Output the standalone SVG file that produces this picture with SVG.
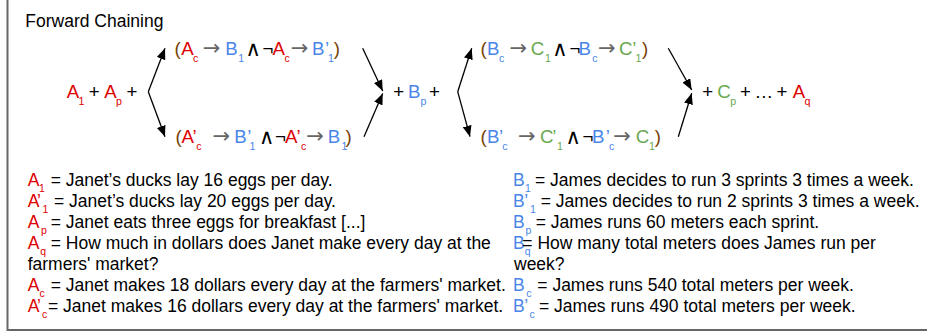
<svg xmlns="http://www.w3.org/2000/svg" width="927" height="335" viewBox="0 0 927 335">
<style>
text { font-family: "Liberation Sans", Arial, "DejaVu Sans", sans-serif; }
.t { font-size: 17.5px; fill: #000; }
.f { font-size: 18.67px; fill: #000; }
.s { font-size: 10.67px; }
.ls { font-size: 10.5px; }
.m { text-anchor: middle; }
.r { fill: #dd0000; }
.b { fill: #4a86e8; }
.g { fill: #6aa84f; }
.k { fill: #000; }
.ar { fill: #666666; font-family: "DejaVu Sans", sans-serif; font-size: 21px; }
.and { font-family: "DejaVu Sans", sans-serif; font-size: 21px; }
.pn { fill: #783f04; }
.frame { stroke: #666666; stroke-width: 2; fill: none; }
.conn { stroke: #000; stroke-width: 1.3; fill: none; marker-end: url(#ah); }
</style>
<defs>
<marker id="ah" markerUnits="userSpaceOnUse" markerWidth="12" markerHeight="10" refX="11" refY="4.5" orient="auto">
<path d="M0,0 L11,4.5 L0,9 z" fill="#000"/>
</marker>
</defs>
<rect width="927" height="335" fill="#fff"/>
<path class="frame" d="M7.5,0 V330 H927"/>

<g id="title"><text class="t" x="25.3" y="26.5">Forward Chaining</text></g>

<g id="step-a">
<text class="f"><tspan class="r" x="66.7" y="98">A</tspan><tspan class="r s" x="78.5" y="104.5">1</tspan><tspan class="k m" x="94.2" y="98">+</tspan><tspan class="r" x="104.3" y="98">A</tspan><tspan class="r s" x="116" y="104.5">p</tspan><tspan class="k m" x="132" y="98">+</tspan></text>
</g>

<g id="branch-a-top">
<text class="f"><tspan class="pn" x="174.5" y="55">(</tspan><tspan class="r" x="181.3" y="55">A</tspan><tspan class="r s" x="193" y="61.5">c</tspan><tspan class="ar m" x="211.5" y="55">→</tspan><tspan class="b" x="225.3" y="55">B</tspan><tspan class="b s" x="238.2" y="61.5">1</tspan><tspan class="k m and" x="253.3" y="55.5">∧</tspan><tspan class="k m" x="268" y="55">¬</tspan><tspan class="r" x="272.5" y="55">A</tspan><tspan class="r s" x="284.6" y="61.5">c</tspan><tspan class="ar m" x="299.5" y="55">→</tspan><tspan class="b" x="311.9" y="55">B</tspan><tspan class="b" x="325" y="55">’</tspan><tspan class="b s" x="328" y="61.5">1</tspan><tspan class="pn" x="333.8" y="55">)</tspan></text>
</g>

<g id="branch-a-bottom">
<text class="f"><tspan class="pn" x="175.4" y="143">(</tspan><tspan class="r" x="181.5" y="143">A</tspan><tspan class="r" x="192.4" y="143">’</tspan><tspan class="r s" x="196.3" y="149.5">c</tspan><tspan class="ar m" x="221.3" y="143">→</tspan><tspan class="b" x="234.2" y="143">B</tspan><tspan class="b" x="247.3" y="143">’</tspan><tspan class="b s" x="249.5" y="149.5">1</tspan><tspan class="k m and" x="266.7" y="143.5">∧</tspan><tspan class="k m" x="280.5" y="143">¬</tspan><tspan class="r" x="285" y="143">A</tspan><tspan class="r" x="296.5" y="143">’</tspan><tspan class="r s" x="301" y="149.5">c</tspan><tspan class="ar m" x="315" y="143">→</tspan><tspan class="b" x="327.8" y="143">B</tspan><tspan class="b s" x="341.5" y="149.5">1</tspan><tspan class="pn" x="345.5" y="143">)</tspan></text>
</g>

<g id="step-b">
<text class="f"><tspan class="k m" x="398.8" y="98">+</tspan><tspan class="b" x="408" y="98">B</tspan><tspan class="b s" x="420.5" y="104.5">p</tspan><tspan class="k m" x="434.5" y="98">+</tspan></text>
</g>

<g id="branch-b-top">
<text class="f"><tspan class="pn" x="480.5" y="55">(</tspan><tspan class="b" x="487" y="55">B</tspan><tspan class="b s" x="499" y="61.5">c</tspan><tspan class="ar m" x="518.3" y="55">→</tspan><tspan class="g" x="530.7" y="55">C</tspan><tspan class="g s" x="545" y="61.5">1</tspan><tspan class="k m and" x="560" y="55.5">∧</tspan><tspan class="k m" x="575" y="55">¬</tspan><tspan class="b" x="578.6" y="55">B</tspan><tspan class="b s" x="592.3" y="61.5">c</tspan><tspan class="ar m" x="606.7" y="55">→</tspan><tspan class="g" x="619" y="55">C</tspan><tspan class="g" x="632.3" y="55">’</tspan><tspan class="g s" x="635.5" y="61.5">1</tspan><tspan class="pn" x="642" y="55">)</tspan></text>
</g>

<g id="branch-b-bottom">
<text class="f"><tspan class="pn" x="480.5" y="143">(</tspan><tspan class="b" x="487" y="143">B</tspan><tspan class="b" x="499" y="143">’</tspan><tspan class="b s" x="502.3" y="149.5">c</tspan><tspan class="ar m" x="526.7" y="143">→</tspan><tspan class="g" x="540" y="143">C</tspan><tspan class="g" x="552.3" y="143">’</tspan><tspan class="g s" x="557" y="149.5">1</tspan><tspan class="k m and" x="573.3" y="143.5">∧</tspan><tspan class="k m" x="588" y="143">¬</tspan><tspan class="b" x="592" y="143">B</tspan><tspan class="b" x="605.7" y="143">’</tspan><tspan class="b s" x="609" y="149.5">c</tspan><tspan class="ar m" x="622" y="143">→</tspan><tspan class="g" x="635.7" y="143">C</tspan><tspan class="g s" x="649" y="149.5">1</tspan><tspan class="pn" x="654.8" y="143">)</tspan></text>
</g>

<g id="step-c">
<text class="f"><tspan class="k m" x="707.8" y="98">+</tspan><tspan class="g" x="717.3" y="98">C</tspan><tspan class="g s" x="730.3" y="104.5">p</tspan><tspan class="k m" x="745.5" y="98">+</tspan><tspan class="k m" x="763.8" y="98">…</tspan><tspan class="k m" x="782" y="98">+</tspan><tspan class="r" x="792.7" y="98">A</tspan><tspan class="r s" x="804.5" y="104.5">q</tspan></text>
</g>

<g id="connectors">
<path class="conn" d="M148.3,91.7 L165,48.3"/>
<path class="conn" d="M148.3,91.7 L165,136.7"/>
<path class="conn" d="M362.7,48.3 L382.7,91"/>
<path class="conn" d="M364,136.7 L382.7,93.5"/>
<path class="conn" d="M457.7,91.7 L471.7,48.3"/>
<path class="conn" d="M457.7,91.7 L470,136.7"/>
<path class="conn" d="M668.3,48.3 L691.7,90"/>
<path class="conn" d="M678.3,136.7 L691.7,93.3"/>
</g>

<g id="legend-a">
<text class="t"><tspan class="r" x="27.7" y="186.3">A</tspan><tspan class="r ls" x="39" y="192.3">1</tspan><tspan x="50.7" y="186.3">= Janet’s ducks lay 16 eggs per day.</tspan></text>
<text class="t"><tspan class="r" x="27.7" y="207.2">A</tspan><tspan class="r" x="37" y="207.2">’</tspan><tspan class="r ls" x="42.5" y="213.2">1</tspan><tspan x="54" y="207.2">= Janet’s ducks lay 20 eggs per day.</tspan></text>
<text class="t"><tspan class="r" x="27.7" y="228.2">A</tspan><tspan class="r ls" x="41" y="234.2">p</tspan><tspan x="50.7" y="228.2">= Janet eats three eggs for breakfast [...]</tspan></text>
<text class="t"><tspan class="r" x="27.7" y="249.2">A</tspan><tspan class="r ls" x="40.3" y="255.2">q</tspan><tspan x="50.7" y="249.2">= How much in dollars does Janet make every day at the</tspan><tspan x="27.7" y="270.1">farmers' market?</tspan></text>
<text class="t"><tspan class="r" x="27.7" y="291.1">A</tspan><tspan class="r ls" x="39.6" y="297.1">c</tspan><tspan x="50.7" y="291.1">= Janet makes 18 dollars every day at the farmers' market.</tspan></text>
<text class="t"><tspan class="r" x="27.7" y="312">A</tspan><tspan class="r" x="37" y="312">’</tspan><tspan class="r ls" x="42" y="318">c</tspan><tspan x="48" y="312">= Janet makes 16 dollars every day at the farmers' market.</tspan></text>
</g>

<g id="legend-b">
<text class="t"><tspan class="b" x="513" y="186.3">B</tspan><tspan class="b ls" x="525" y="192.3">1</tspan><tspan x="535" y="186.3">= James decides to run 3 sprints 3 times a week.</tspan></text>
<text class="t"><tspan class="b" x="513" y="207.2">B</tspan><tspan class="b" x="524.3" y="207.2">’</tspan><tspan class="b ls" x="530" y="213.2">1</tspan><tspan x="540.7" y="207.2">= James decides to run 2 sprints 3 times a week.</tspan></text>
<text class="t"><tspan class="b" x="513" y="228.2">B</tspan><tspan class="b ls" x="525.5" y="234.2">p</tspan><tspan x="535.7" y="228.2">= James runs 60 meters each sprint.</tspan></text>
<text class="t"><tspan class="b" x="513" y="249.2">B</tspan><tspan class="b ls" x="524.8" y="255.2">q</tspan><tspan x="522.3" y="249.2">= How many total meters does James run per</tspan><tspan x="514" y="270.1">week?</tspan></text>
<text class="t"><tspan class="b" x="513" y="291.1">B</tspan><tspan class="b ls" x="526.3" y="297.1">c</tspan><tspan x="537.3" y="291.1">= James runs 540 total meters per week.</tspan></text>
<text class="t"><tspan class="b" x="513" y="312">B</tspan><tspan class="b" x="524.3" y="312">’</tspan><tspan class="b ls" x="529.6" y="318">c</tspan><tspan x="539" y="312">= James runs 490 total meters per week.</tspan></text>
</g>
</svg>
